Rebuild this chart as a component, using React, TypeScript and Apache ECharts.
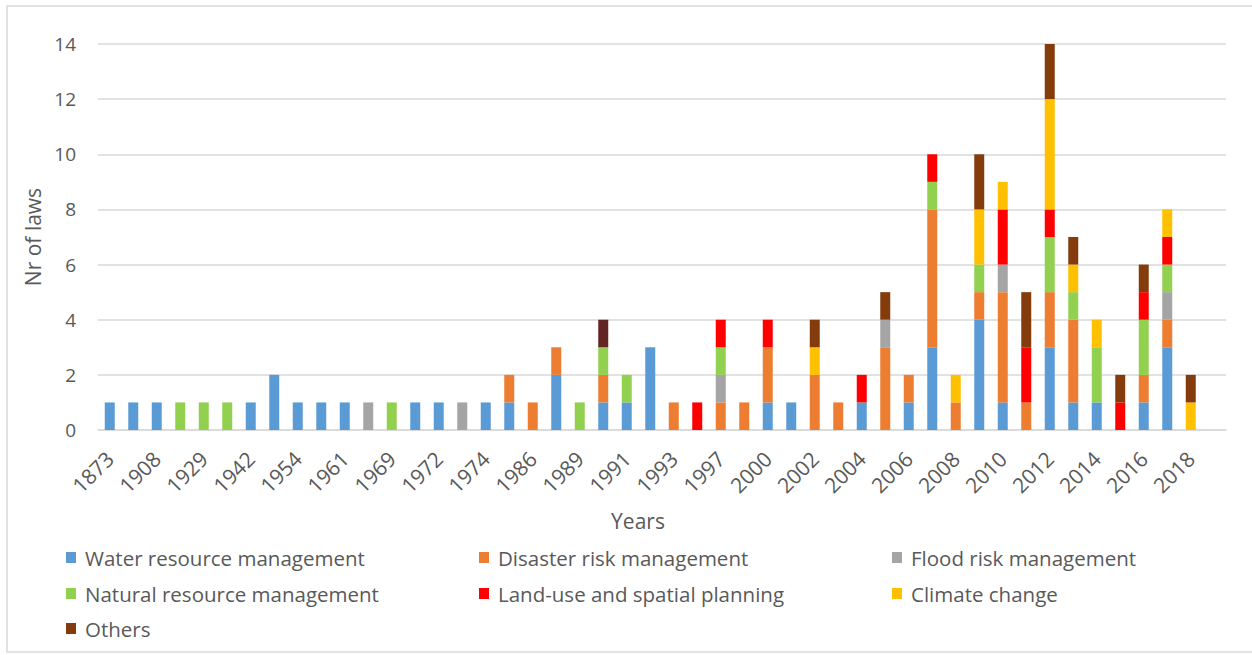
import React, { useEffect, useRef } from "react";
import * as echarts from "echarts";

const years = [
  "1873", "1900", "1908", "1920", "1929", "1935", "1942", "1950", "1954", "1958",
  "1961", "1965", "1969", "1970", "1972", "1973", "1974", "1980", "1986", "1987",
  "1989", "1990", "1991", "1992", "1993", "1995", "1997", "1999", "2000", "2001",
  "2002", "2003", "2004", "2005", "2006", "2007", "2008", "2009", "2010", "2011",
  "2012", "2013", "2014", "2015", "2016", "2017", "2018", "",
];

const waterResource = [1, 1, 1, 0, 0, 0, 1, 2, 1, 1, 1, 0, 0, 1, 1, 0, 1, 1, 0, 2, 0, 1, 1, 3, 0, 0, 0, 0, 1, 1, 0, 0, 1, 0, 1, 3, 0, 4, 1, 0, 3, 1, 1, 0, 1, 3, 0, 0];
const disasterRisk = [0, 0, 0, 0, 0, 0, 0, 0, 0, 0, 0, 0, 0, 0, 0, 0, 0, 1, 1, 1, 0, 1, 0, 0, 1, 0, 1, 1, 2, 0, 2, 1, 0, 3, 1, 5, 1, 1, 4, 1, 2, 3, 0, 0, 1, 1, 0, 0];
const floodRisk = [0, 0, 0, 0, 0, 0, 0, 0, 0, 0, 0, 1, 0, 0, 0, 1, 0, 0, 0, 0, 0, 0, 0, 0, 0, 0, 1, 0, 0, 0, 0, 0, 0, 1, 0, 0, 0, 0, 1, 0, 0, 0, 0, 0, 0, 1, 0, 0];
const naturalResource = [0, 0, 0, 1, 1, 1, 0, 0, 0, 0, 0, 0, 1, 0, 0, 0, 0, 0, 0, 0, 1, 1, 1, 0, 0, 0, 1, 0, 0, 0, 0, 0, 0, 0, 0, 1, 0, 1, 0, 0, 2, 1, 2, 0, 2, 1, 0, 0];
const landUse = [0, 0, 0, 0, 0, 0, 0, 0, 0, 0, 0, 0, 0, 0, 0, 0, 0, 0, 0, 0, 0, 0, 0, 0, 0, 1, 1, 0, 1, 0, 0, 0, 1, 0, 0, 1, 0, 0, 2, 2, 1, 0, 0, 1, 1, 1, 0, 0];
const climateChange = [0, 0, 0, 0, 0, 0, 0, 0, 0, 0, 0, 0, 0, 0, 0, 0, 0, 0, 0, 0, 0, 0, 0, 0, 0, 0, 0, 0, 0, 0, 1, 0, 0, 0, 0, 0, 1, 2, 1, 0, 4, 1, 1, 0, 0, 1, 1, 0];
const others = [0, 0, 0, 0, 0, 0, 0, 0, 0, 0, 0, 0, 0, 0, 0, 0, 0, 0, 0, 0, 0, 1, 0, 0, 0, 0, 0, 0, 0, 0, 1, 0, 0, 1, 0, 0, 0, 2, 0, 2, 2, 1, 0, 1, 1, 0, 1, 0];

const seriesNames = [
  "Water resource management",
  "Disaster risk management",
  "Flood risk management",
  "Natural resource management",
  "Land-use and spatial planning",
  "Climate change",
  "Others",
];
const seriesValues = [waterResource, disasterRisk, floodRisk, naturalResource, landUse, climateChange, others];
const seriesColors = ["#5B9BD5", "#ED7D31", "#A5A5A5", "#92D050", "#FF0000", "#FFC000", "#843C0C"];
const darkOthersYear = "1990";
const darkOthersColor = "#632523";

const FONT = "'Open Sans', 'Liberation Sans', sans-serif";
const TEXT = "#595959";

export default function App() {
  const ref = useRef<HTMLDivElement>(null);
  useEffect(() => {
    if (!ref.current) return;
    const chart = echarts.init(ref.current, undefined, { renderer: "svg" });

    const legendPos = [
      [66, 547], [479, 547], [892, 547],
      [66, 583], [479, 583], [892, 583],
      [66, 618],
    ];

    const series = seriesNames.map((name, si) => ({
      name,
      type: "bar",
      stack: "total",
      barWidth: 10,
      itemStyle: { color: seriesColors[si] },
      data: seriesValues[si].map((v, i) => {
        if (!v) return null;
        if (si === 6 && years[i] === darkOthersYear) {
          return { value: v, itemStyle: { color: darkOthersColor } };
        }
        return v;
      }),
    }));

    chart.setOption({
      animation: false,
      backgroundColor: "#ffffff",
      textStyle: { fontFamily: FONT },
      grid: { left: 98, right: 26, top: 44, bottom: 225, containLabel: false },
      legend: seriesNames.map((name, i) => ({
        data: [name],
        left: legendPos[i][0],
        top: legendPos[i][1],
        padding: 0,
        itemWidth: 10,
        itemHeight: 11,
        icon: "rect",
        selectedMode: false,
        textStyle: { fontSize: 20.5, color: TEXT, fontFamily: FONT, padding: [0, 0, 0, 4] },
      })),
      xAxis: {
        type: "category",
        data: years,
        name: "Years",
        nameLocation: "middle",
        nameGap: 80,
        nameTextStyle: { fontSize: 21, color: TEXT, fontFamily: FONT, padding: [0, 48, 0, 0] },
        axisLine: { lineStyle: { color: "#D9D9D9", width: 1.5 } },
        axisTick: { show: false },
        axisLabel: {
          interval: 1,
          rotate: 45,
          fontSize: 21,
          color: TEXT,
          margin: 25,
          fontFamily: FONT,
        },
      },
      yAxis: {
        type: "value",
        min: 0,
        max: 14,
        interval: 2,
        name: "Nr of laws",
        nameLocation: "middle",
        nameRotate: 90,
        nameGap: 44,
        nameTextStyle: { fontSize: 21, color: TEXT, fontFamily: FONT },
        axisLine: { show: false },
        axisTick: { show: false },
        axisLabel: { fontSize: 19, color: TEXT, margin: 22, fontFamily: FONT },
        splitLine: { lineStyle: { color: "#D9D9D9", width: 1.5 } },
      },
      graphic: [
        {
          type: "rect",
          shape: { x: 7, y: 6, width: 1270, height: 646 },
          style: { fill: "none", stroke: "#D9D9D9", lineWidth: 1.5 },
          silent: true,
          z: -1,
        },
      ],
      series,
    });
    return () => chart.dispose();
  }, []);
  return (
    <div
      ref={ref}
      style={{ position: "absolute", left: 0, top: 0, width: 1252, height: 655 }}
    />
  );
}
